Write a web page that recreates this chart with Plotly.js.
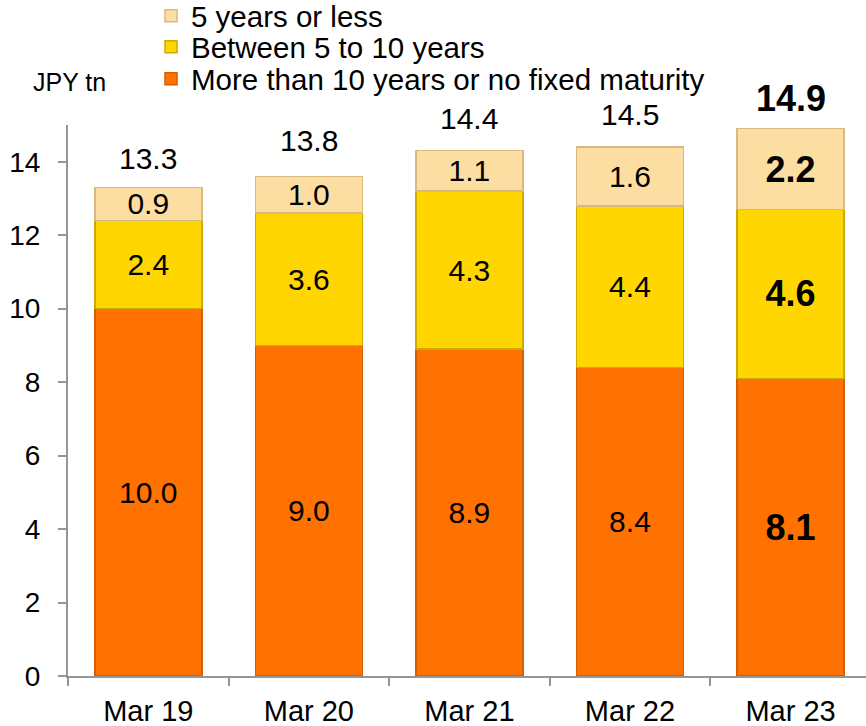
<!DOCTYPE html>
<html>
<head>
<meta charset="utf-8">
<script src="https://cdn.plot.ly/plotly-3.0.1.min.js"></script>
<style>
  html, body { margin: 0; padding: 0; background: #ffffff; }
  #chart { width: 866px; height: 726px; }
</style>
</head>
<body>
<div id="chart"></div>
<script>
// Balances by remaining maturity, JPY tn
const periods = ["Mar 19", "Mar 20", "Mar 21", "Mar 22", "Mar 23"];
const over10 = [10.0, 9.0, 8.9, 8.4, 8.1];
const between5and10 = [2.4, 3.6, 4.3, 4.4, 4.6];
const under5 = [0.9, 1.0, 1.1, 1.6, 2.2];
const totals = [13.3, 13.8, 14.4, 14.5, 14.9];
const yTicks = [0, 2, 4, 6, 8, 10, 12, 14];

const FONT = "Liberation Sans, Arial, sans-serif";
const last = periods.length - 1;

// latest period is emphasised in bold and larger type
function labels(vals) {
  return vals.map((v, i) => i === last ? "<b>" + v.toFixed(1) + "</b>" : v.toFixed(1));
}
function sizes(vals) {
  return vals.map((v, i) => i === last ? 36 : 30);
}

function series(name, vals, fill, edge, legendId) {
  return {
    type: "bar",
    name: name,
    legend: legendId,
    x: periods,
    y: vals,
    text: labels(vals),
    texttemplate: "%{text}",
    textposition: "inside",
    insidetextanchor: "middle",
    constraintext: "none",
    textangle: 0,
    textfont: { family: FONT, color: "#000000", size: sizes(vals) },
    marker: { color: fill, line: { color: edge, width: 1.5 } },
    width: 0.666,
    hoverinfo: "x+y+name"
  };
}

const traces = [
  series("More than 10 years or no fixed maturity", over10, "#FF7100", "#D85C00", "legend3"),
  series("Between 5 to 10 years", between5and10, "#FFD600", "#CDAA00", "legend2"),
  series("5 years or less", under5, "#FCDEA2", "#D8BA80", "legend")
];

const totalNotes = periods.map((p, i) => ({
  x: p,
  y: totals[i],
  xref: "x",
  yref: "y",
  text: i === last ? "<b>" + totals[i].toFixed(1) + "</b>" : totals[i].toFixed(1),
  showarrow: false,
  yanchor: "middle",
  yshift: i === last ? 30 : 29,
  font: { family: FONT, size: i === last ? 36 : 30, color: "#000000" }
}));

// one single-entry legend per row so the rows sit at fixed heights
function legendBox(yCenter) {
  return {
    xref: "container",
    yref: "container",
    x: 151 / 866,
    y: 1 - (yCenter - 1) / 726,
    xanchor: "left",
    yanchor: "middle",
    bgcolor: "rgba(0,0,0,0)",
    font: { family: FONT, size: 29.5, color: "#000000" },
    itemwidth: 30
  };
}

const layout = {
  width: 866,
  height: 726,
  margin: { l: 68, r: 0, t: 125, b: 50, pad: 0, autoexpand: false },
  paper_bgcolor: "#ffffff",
  plot_bgcolor: "#ffffff",
  barmode: "stack",
  font: { family: FONT, color: "#000000", size: 28 },
  xaxis: {
    type: "category",
    range: [-0.5, 4.47],
    showline: true,
    linecolor: "#969696",
    linewidth: 2,
    ticks: "outside",
    tickson: "boundaries",
    ticklen: 8,
    tickcolor: "#969696",
    tickwidth: 2,
    ticklabelstandoff: 8,
    tickfont: { family: FONT, size: 29, color: "#000000" },
    showgrid: false,
    zeroline: false,
    fixedrange: true
  },
  yaxis: {
    range: [0, 15],
    tickvals: yTicks,
    ticktext: yTicks.map(String),
    showline: true,
    linecolor: "#969696",
    linewidth: 2,
    ticks: "outside",
    ticklen: 8,
    tickcolor: "#969696",
    tickwidth: 2,
    ticklabelstandoff: 12,
    tickfont: { family: FONT, size: 28, color: "#000000" },
    showgrid: false,
    zeroline: false,
    fixedrange: true
  },
  showlegend: true,
  legend: legendBox(17),
  legend2: legendBox(48),
  legend3: legendBox(80),
  annotations: totalNotes.concat([{
    text: "JPY tn",
    xref: "paper",
    yref: "paper",
    x: (69 - 68) / 798,
    y: (676 - 82) / 551,
    xanchor: "center",
    yanchor: "middle",
    showarrow: false,
    font: { family: FONT, size: 25, color: "#000000" }
  }])
};

Plotly.newPlot("chart", traces, layout, { displayModeBar: false, staticPlot: true });
</script>
</body>
</html>
